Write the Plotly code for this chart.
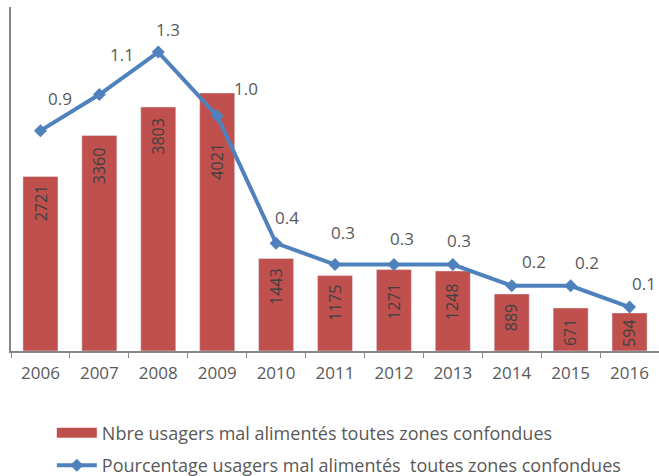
import plotly.graph_objects as go

years = ["2006", "2007", "2008", "2009", "2010", "2011", "2012", "2013", "2014", "2015", "2016"]
nbre_usagers = [2721, 3360, 3803, 4021, 1443, 1175, 1271, 1248, 889, 671, 594]
pourcentage = [0.93, 1.1, 1.3, 1.0, 0.4, 0.3, 0.3, 0.3, 0.2, 0.2, 0.1]

bar_name = "Nbre usagers mal alimentés toutes zones confondues"
line_name = "Pourcentage usagers mal alimentés  toutes zones confondues"

RED = "#C0504D"
BLUE = "#4F81BD"
GREY = "#595959"
FONT = "Open Sans"

# label offsets (style, px): line labels (dx, dy) and bar label drop
line_label_offsets = [(20, 32), (23, 40), (10, 23), (29, 27), (11, 26), (8, 32),
                      (8, 26), (6, 24), (22, 24), (16, 23), (14, 24)]
bar_label_drop = [6, 10, 9, 48, 8, 7, 11, 10, 8, 9, 5]

fig = go.Figure()

fig.add_trace(go.Bar(
    x=years, y=nbre_usagers, marker_color=RED, showlegend=False,
    name=bar_name, yaxis="y",
))
# legend swatch for the bars
fig.add_trace(go.Scatter(
    x=years[:1], y=[None], mode="lines", line=dict(color=RED, width=12),
    name=bar_name, showlegend=True, legendgroup="a", hoverinfo="skip",
))
fig.add_trace(go.Scatter(
    x=years, y=pourcentage, mode="lines+markers", yaxis="y2",
    line=dict(color=BLUE, width=4), marker=dict(symbol="diamond", size=10, color=BLUE),
    name=line_name, legendgroup="b",
))

annotations = []
for i, (v, d) in enumerate(zip(nbre_usagers, bar_label_drop)):
    annotations.append(dict(
        x=i, y=v, xref="x", yref="y", text=str(v), textangle=-90,
        showarrow=False, xanchor="center", yanchor="top", yshift=-d,
        font=dict(family=FONT, size=16, color="#404040"),
    ))
for i, (v, (dx, dy)) in enumerate(zip(pourcentage, line_label_offsets)):
    annotations.append(dict(
        x=i, y=v, xref="x", yref="y2", text=f"{v:.1f}",
        showarrow=False, xanchor="center", yanchor="middle", xshift=dx, yshift=dy,
        font=dict(family=FONT, size=17, color=GREY),
    ))

fig.update_layout(
    width=659, height=476,
    margin=dict(l=11, r=0, t=7, b=125, autoexpand=False),
    paper_bgcolor="white", plot_bgcolor="white",
    font=dict(family=FONT, size=16, color=GREY),
    bargap=0.405,
    xaxis=dict(
        type="category", categoryorder="array", categoryarray=years,
        range=[-0.5, len(years) - 0.5],
        showline=True, linecolor="#868686", linewidth=1.5,
        ticks="outside", tickson="boundaries", ticklen=5, tickcolor="#868686",
        ticklabelstandoff=6,
        tickangle=0, tickfont=dict(family=FONT, size=17, color=GREY), showgrid=False,
    ),
    yaxis=dict(
        range=[0, 5361], showline=True, linecolor="#868686", linewidth=1.5,
        showticklabels=False, ticks="", showgrid=False, zeroline=False,
    ),
    yaxis2=dict(
        range=[-0.107, 1.512], overlaying="y", side="right", visible=False,
        showgrid=False, zeroline=False,
    ),
    legend=dict(
        orientation="v", x=0.063, y=0.129, xref="paper", yref="container",
        xanchor="left", yanchor="top",
        font=dict(family=FONT, size=18, color=GREY), tracegroupgap=6,
        itemwidth=40, bgcolor="rgba(0,0,0,0)",
    ),
    annotations=annotations,
)

fig.write_html("out.html", post_script="document.body.style.margin='0';",
               config={"displayModeBar": False})
